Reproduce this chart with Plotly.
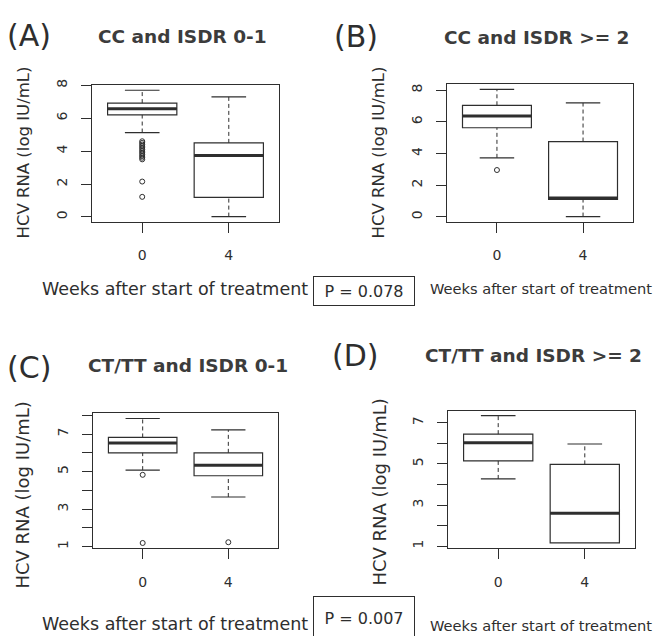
import plotly.graph_objects as go

# ---------------- data ----------------
week_labels = ["0", "4"]
panel_letters = ["(A)", "(B)", "(C)", "(D)"]
panel_titles = ["CC and ISDR 0-1", "CC and ISDR >= 2", "CT/TT and ISDR 0-1", "CT/TT and ISDR >= 2"]
p_values = ["P = 0.078", "P = 0.007"]
y_title = "HCV RNA (log IU/mL)"
x_title = "Weeks after start of treatment"

# Panel A : CC and ISDR 0-1   (week 0, week 4)
A_low = [5.13, 0.02]
A_q1 = [6.20, 1.19]
A_med = [6.58, 3.73]
A_q3 = [6.92, 4.50]
A_high = [7.70, 7.30]
A_out_w0 = [4.60, 4.50, 4.40, 4.30, 4.20, 4.10, 4.00, 3.90, 3.80, 3.70, 3.60, 3.50, 2.15, 1.22]
A_out_w4 = []

# Panel B : CC and ISDR >= 2
B_low = [3.73, 0.02]
B_q1 = [5.63, 1.10]
B_med = [6.37, 1.20]
B_q3 = [7.05, 4.76]
B_high = [8.06, 7.20]
B_out_w0 = [2.96]
B_out_w4 = []

# Panel C : CT/TT and ISDR 0-1
C_low = [5.08, 3.65]
C_q1 = [6.00, 4.78]
C_med = [6.52, 5.34]
C_q3 = [6.82, 6.00]
C_high = [7.83, 7.22]
C_out_w0 = [4.83, 1.20]
C_out_w4 = [1.24]

# Panel D : CT/TT and ISDR >= 2
D_low = [4.27, 1.16]
D_q1 = [5.15, 1.16]
D_med = [6.03, 2.60]
D_q3 = [6.45, 4.98]
D_high = [7.35, 5.97]
D_out_w0 = []
D_out_w4 = []

A_yticks = [0, 2, 4, 6, 8]
B_yticks = [0, 2, 4, 6, 8]
C_yticks = [1, 2, 3, 4, 5, 6, 7, 8]
D_yticks = [1, 2, 3, 4, 5, 6, 7]

# ---------------- layout constants ----------------
OFF = 8                      # page body margin
W, H = 661 - OFF, 636 - OFF
INK = "#2e2e2e"
FONT = "DejaVu Sans"
BOX_W = 0.8
CAP_W = 0.4

def fx(p):
    return (p - OFF) / W

def fy(p):
    return 1 - (p - OFF) / H

# pixel frames on the page (left, right, top, bottom)
frames = [(92, 279, 80, 218), (447, 633, 79, 218), (93, 278, 412, 548), (448, 635, 409, 548)]

panels = [
    dict(low=A_low, q1=A_q1, med=A_med, q3=A_q3, high=A_high, out=[A_out_w0, A_out_w4], yt=A_yticks, lab=True),
    dict(low=B_low, q1=B_q1, med=B_med, q3=B_q3, high=B_high, out=[B_out_w0, B_out_w4], yt=B_yticks, lab=True),
    dict(low=C_low, q1=C_q1, med=C_med, q3=C_q3, high=C_high, out=[C_out_w0, C_out_w4], yt=C_yticks, lab=False),
    dict(low=D_low, q1=D_q1, med=D_med, q3=D_q3, high=D_high, out=[D_out_w0, D_out_w4], yt=D_yticks, lab=False),
]

fig = go.Figure()
layout = dict(
    width=W, height=H, autosize=False,
    margin=dict(l=0, r=0, t=0, b=0),
    paper_bgcolor="white", plot_bgcolor="white",
    showlegend=False,
    font=dict(family=FONT, color=INK, size=14),
)

annotations = []

for i, (pn, fr) in enumerate(zip(panels, frames)):
    k = "" if i == 0 else str(i + 1)
    xa, ya = "x" + k, "y" + k
    positions = [1, 2]

    # R-style ranges (4% extension)
    vals = pn["low"] + pn["high"] + pn["out"][0] + pn["out"][1]
    lo, hi = min(vals), max(vals)
    pad = 0.04 * (hi - lo)
    yr = [lo - pad, hi + pad]
    xr = [0.5 - 0.08, 2.5 + 0.08]

    # whiskers (dashed)
    wx, wy = [], []
    for p, l, a, b, h in zip(positions, pn["low"], pn["q1"], pn["q3"], pn["high"]):
        wx += [p, p, None, p, p, None]
        wy += [b, h, None, l, a, None]
    fig.add_trace(go.Scatter(x=wx, y=wy, xaxis=xa, yaxis=ya, mode="lines",
                             line=dict(color=INK, width=1, dash="4px,3px"), hoverinfo="skip"))
    # staples
    sx, sy = [], []
    for p, l, a, h in zip(positions, pn["low"], pn["q1"], pn["high"]):
        sx += [p - CAP_W / 2, p + CAP_W / 2, None]
        sy += [h, h, None]
        if l < a:
            sx += [p - CAP_W / 2, p + CAP_W / 2, None]
            sy += [l, l, None]
    fig.add_trace(go.Scatter(x=sx, y=sy, xaxis=xa, yaxis=ya, mode="lines",
                             line=dict(color=INK, width=1.2), hoverinfo="skip"))
    # boxes
    fig.add_trace(go.Box(
        x=positions, q1=pn["q1"], median=pn["med"], q3=pn["q3"],
        lowerfence=pn["q1"], upperfence=pn["q3"],
        width=BOX_W, whiskerwidth=0, fillcolor="white",
        line=dict(color=INK, width=1.2), boxpoints=False,
        xaxis=xa, yaxis=ya, hoverinfo="skip"))
    # thick medians
    mx, my = [], []
    for p, m in zip(positions, pn["med"]):
        mx += [p - BOX_W / 2, p + BOX_W / 2, None]
        my += [m, m, None]
    fig.add_trace(go.Scatter(x=mx, y=my, xaxis=xa, yaxis=ya, mode="lines",
                             line=dict(color=INK, width=3), hoverinfo="skip"))
    # outliers
    ox, oy = [], []
    for p, outs in zip(positions, pn["out"]):
        ox += [p] * len(outs)
        oy += outs
    if ox:
        fig.add_trace(go.Scatter(x=ox, y=oy, xaxis=xa, yaxis=ya, mode="markers",
                                 marker=dict(symbol="circle-open", size=5, color=INK, line=dict(width=1)),
                                 hoverinfo="skip"))

    L, R, T, B = fr
    ytext = [str(v) if (pn["lab"] or v % 2 == 1) else "" for v in pn["yt"]]
    layout["xaxis" + k] = dict(
        domain=[fx(L), fx(R)], range=xr, anchor=ya,
        tickvals=positions, ticktext=week_labels,
        ticks="outside", ticklen=10, tickcolor=INK, tickwidth=1,
        showline=True, mirror=True, linecolor=INK, linewidth=1,
        showgrid=False, zeroline=False, ticklabelstandoff=11,
        tickfont=dict(size=14, color=INK, family=FONT))
    layout["yaxis" + k] = dict(
        domain=[fy(B), fy(T)], range=yr, anchor=xa,
        tickvals=pn["yt"], ticktext=ytext, tickangle=-90,
        ticks="outside", ticklen=10, tickcolor=INK, tickwidth=1,
        showline=True, mirror=True, linecolor=INK, linewidth=1,
        showgrid=False, zeroline=False, ticklabelstandoff=8,
        tickfont=dict(size=14, color=INK, family=FONT))

# ---------------- text annotations (page pixel positions) ----------------
letter_pos = [(29, 30), (356, 31), (29, 365), (355, 353)]
title_pos = [(182, 31), (537, 32), (188, 363), (533, 353)]
ytitle_pos = [(23, 148, 16.5), (378, 148, 16.5), (23, 495, 18), (380, 492, 18)]
xtitle_pos = [(175, 286, 17.5), (541, 286, 14.6), (175, 625, 17.5), (541, 626, 14.6)]

for (x, y), t in zip(letter_pos, panel_letters):
    annotations.append(dict(x=fx(x), y=fy(y), xref="paper", yref="paper", text=t, showarrow=False,
                            xanchor="center", yanchor="middle", font=dict(size=30, color=INK, family=FONT)))
for (x, y), t in zip(title_pos, panel_titles):
    annotations.append(dict(x=fx(x), y=fy(y), xref="paper", yref="paper", text="<b>" + t.replace(">", "&gt;") + "</b>",
                            showarrow=False, xanchor="center", yanchor="middle",
                            font=dict(size=18.5, color="#3c3c3c", family=FONT)))
for x, y, s in ytitle_pos:
    annotations.append(dict(x=fx(x), y=fy(y), xref="paper", yref="paper", text=y_title, textangle=-90,
                            showarrow=False, xanchor="center", yanchor="middle",
                            font=dict(size=s, color=INK, family=FONT)))
for x, y, s in xtitle_pos:
    annotations.append(dict(x=fx(x), y=fy(y), xref="paper", yref="paper", text=x_title,
                            showarrow=False, xanchor="center", yanchor="middle",
                            font=dict(size=s, color=INK, family=FONT)))

# P-value boxes
annotations.append(dict(x=fx(364), y=fy(288), xref="paper", yref="paper", text=p_values[0],
                        showarrow=False, xanchor="center", yanchor="middle", width=98, height=26,
                        bordercolor=INK, borderwidth=1, borderpad=1,
                        font=dict(size=16, color=INK, family=FONT)))
annotations.append(dict(x=fx(364), y=fy(597), xref="paper", yref="paper", text=p_values[1],
                        showarrow=False, xanchor="center", yanchor="top", width=98, height=40,
                        bordercolor=INK, borderwidth=1, borderpad=1, valign="middle",
                        font=dict(size=16, color=INK, family=FONT)))

layout["annotations"] = annotations
fig.update_layout(**layout)
fig.write_html("out.html")
